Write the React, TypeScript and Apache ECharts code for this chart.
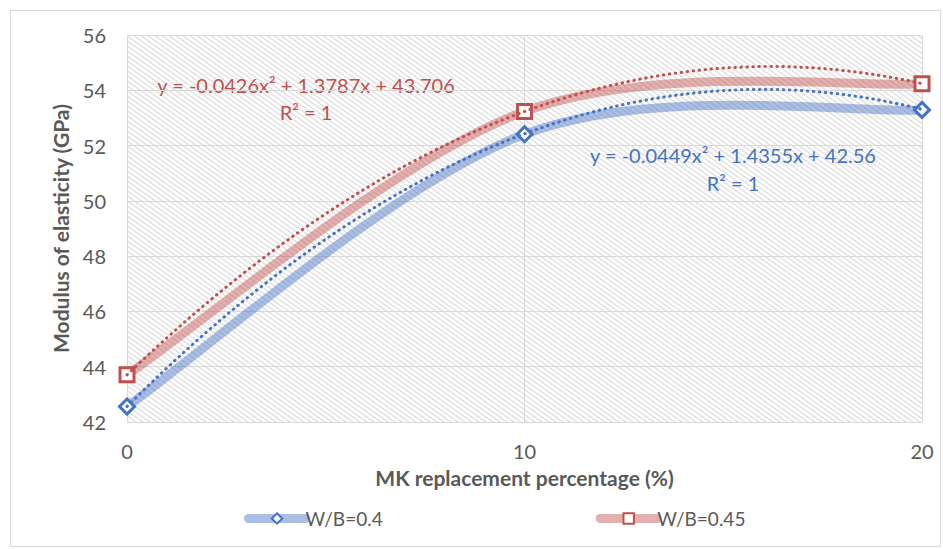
import React, { useEffect, useRef } from "react";
import * as echarts from "echarts";

const xValues = [0, 10, 20];
const wb040 = [42.56, 52.41, 53.29];
const wb045 = [43.706, 53.237, 54.237];
const trend040 = [-0.0449, 1.4355, 42.56];
const trend045 = [-0.0426, 1.3787, 43.706];
const trendLabel040 = ["y = -0.0449x² + 1.4355x + 42.56", "R² = 1"];
const trendLabel045 = ["y = -0.0426x² + 1.3787x + 43.706", "R² = 1"];
const seriesNames = ["W/B=0.4", "W/B=0.45"];
const yTicks = { min: 42, max: 56, interval: 2 };
const xTicks = { min: 0, max: 20, interval: 10 };

const FONT = "Lato, 'Open Sans', sans-serif";
const BLUE = "#4472C4";
const RED = "#C0504D";
const BLUE_PALE = "rgba(68,114,196,0.45)";
const RED_PALE = "rgba(192,80,77,0.45)";

function trendPoints(coef: number[]) {
  const pts: number[][] = [];
  for (let i = 0; i <= 80; i++) {
    const x = (xTicks.max * i) / 80;
    pts.push([x, coef[0] * x * x + coef[1] * x + coef[2]]);
  }
  return pts;
}

function makeHatch() {
  const w = 7, h = 5;
  const c = document.createElement("canvas");
  c.width = w; c.height = h;
  const ctx = c.getContext("2d")!;
  ctx.fillStyle = "#ffffff";
  ctx.fillRect(0, 0, w, h);
  ctx.strokeStyle = "#dddddd";
  ctx.lineWidth = 1.3;
  for (const [dx, dy] of [[0, 0], [-w, 0], [w, 0], [0, -h], [0, h]]) {
    ctx.beginPath();
    ctx.moveTo(dx, dy);
    ctx.lineTo(dx + w, dy + h);
    ctx.stroke();
  }
  return { canvas: c, w, h };
}

// Excel-style smoothed line (Bezier with 1/6 neighbour control points), drawn via axis coords
function smoothRenderer(color: string) {
  return (params: any, api: any) => {
    const i = params.dataIndex;
    const n = params.dataInsideLength;
    if (i >= n - 1) return { type: "group", children: [] };
    const p = (k: number) => api.coord([api.value(0, k), api.value(1, k)]);
    const p0 = p(Math.max(i - 1, 0));
    const p1 = p(i);
    const p2 = p(i + 1);
    const p3 = p(Math.min(i + 2, n - 1));
    return {
      type: "bezierCurve",
      shape: {
        x1: p1[0], y1: p1[1],
        x2: p2[0], y2: p2[1],
        cpx1: p1[0] + (p2[0] - p0[0]) / 6,
        cpy1: p1[1] + (p2[1] - p0[1]) / 6,
        cpx2: p2[0] - (p3[0] - p1[0]) / 6,
        cpy2: p2[1] - (p3[1] - p1[1]) / 6,
      },
      style: { stroke: color, lineWidth: 9, fill: null, lineCap: "round" },
    };
  };
}

export default function App() {
  const ref = useRef<HTMLDivElement>(null);
  useEffect(() => {
    if (!ref.current) return;
    const chart = echarts.init(ref.current, null, { renderer: "svg" });
    const hatch = makeHatch();
    const gl = 127, gr = 21, gt = 35, gb = 127;
    const pw = 943 - gl - gr, ph = 549 - gt - gb;
    const d040 = xValues.map((x, i) => [x, wb040[i]]);
    const d045 = xValues.map((x, i) => [x, wb045[i]]);
    chart.setOption({
      animation: false,
      backgroundColor: "#ffffff",
      grid: { left: gl, right: gr, top: gt, bottom: gb },
      xAxis: {
        type: "value",
        min: xTicks.min,
        max: xTicks.max,
        interval: xTicks.interval,
        name: "MK replacement percentage (%)",
        nameLocation: "middle",
        nameGap: 45,
        nameTextStyle: { fontFamily: FONT, fontSize: 21, fontWeight: "bold", color: "#595959" },
        axisLine: { show: false },
        axisTick: { show: false },
        axisLabel: { fontFamily: FONT, fontSize: 20, color: "#595959", margin: 19 },
        splitLine: { show: true, lineStyle: { color: "#d9d9d9", width: 1 } },
      },
      yAxis: {
        type: "value",
        min: yTicks.min,
        max: yTicks.max,
        interval: yTicks.interval,
        name: "Modulus of elasticity (GPa)",
        nameLocation: "middle",
        nameGap: 56,
        nameTextStyle: { fontFamily: FONT, fontSize: 21, fontWeight: "bold", color: "#595959" },
        axisLine: { show: false },
        axisTick: { show: false },
        axisLabel: { fontFamily: FONT, fontSize: 20, color: "#595959", margin: 21 },
        splitLine: { show: true, lineStyle: { color: "#d9d9d9", width: 1 } },
      },
      legend: {
        data: [
          { name: seriesNames[0], lineStyle: { color: BLUE_PALE, width: 9, opacity: 1, cap: "round" } },
          { name: seriesNames[1], lineStyle: { color: RED_PALE, width: 9, opacity: 1, cap: "round" } },
        ],
        left: 239,
        top: 504,
        itemGap: 213,
        itemWidth: 57,
        itemHeight: 13,
        textStyle: { fontFamily: FONT, fontSize: 19, color: "#595959", padding: [0, 0, 0, -5] },
      },
      graphic: [
        {
          type: "rect",
          z: -10,
          silent: true,
          shape: { x: gl, y: gt, width: pw, height: ph },
          style: { fill: { image: hatch.canvas, repeat: "repeat", imageWidth: hatch.w, imageHeight: hatch.h } as any },
        },
        {
          type: "rect",
          z: -5,
          silent: true,
          shape: { x: 10.5, y: 10.5, width: 930, height: 536 },
          style: { fill: "none", stroke: "#d9d9d9", lineWidth: 1 },
        },
        {
          type: "text", x: 306, y: 85, silent: true,
          style: { text: trendLabel045[0], fill: RED, font: `20px ${FONT}`, align: "center", verticalAlign: "middle" },
        },
        {
          type: "text", x: 306, y: 112, silent: true,
          style: { text: trendLabel045[1], fill: RED, font: `20px ${FONT}`, align: "center", verticalAlign: "middle" },
        },
        {
          type: "text", x: 733, y: 155, silent: true,
          style: { text: trendLabel040[0], fill: BLUE, font: `20px ${FONT}`, align: "center", verticalAlign: "middle" },
        },
        {
          type: "text", x: 733, y: 183, silent: true,
          style: { text: trendLabel040[1], fill: BLUE, font: `20px ${FONT}`, align: "center", verticalAlign: "middle" },
        },
      ],
      series: [
        {
          name: "smooth040",
          type: "custom",
          data: d040,
          renderItem: smoothRenderer(BLUE_PALE),
          z: 2,
          silent: true,
        },
        {
          name: "smooth045",
          type: "custom",
          data: d045,
          renderItem: smoothRenderer(RED_PALE),
          z: 2,
          silent: true,
        },
        {
          name: seriesNames[0],
          type: "line",
          data: d040,
          symbol: "diamond",
          symbolSize: 15,
          lineStyle: { color: BLUE_PALE, width: 9, opacity: 0 },
          itemStyle: { color: "#ffffff", borderColor: BLUE, borderWidth: 3 },
          z: 3,
        },
        {
          name: seriesNames[1],
          type: "line",
          data: d045,
          symbol: "rect",
          symbolSize: 14,
          lineStyle: { color: RED_PALE, width: 9, opacity: 0 },
          itemStyle: { color: "#ffffff", borderColor: RED, borderWidth: 3 },
          z: 3,
        },
        {
          name: "trend040",
          type: "line",
          data: trendPoints(trend040),
          showSymbol: false,
          symbol: "none",
          lineStyle: { color: BLUE, width: 3, type: [0.5, 5.5], cap: "round" },
          z: 4,
          silent: true,
        },
        {
          name: "trend045",
          type: "line",
          data: trendPoints(trend045),
          showSymbol: false,
          symbol: "none",
          lineStyle: { color: RED, width: 3, type: [0.5, 5.5], cap: "round" },
          z: 4,
          silent: true,
        },
      ],
    });
    return () => chart.dispose();
  }, []);
  return (
    <div
      ref={ref}
      style={{ position: "absolute", left: 0, top: 0, width: 943, height: 549 }}
    />
  );
}
